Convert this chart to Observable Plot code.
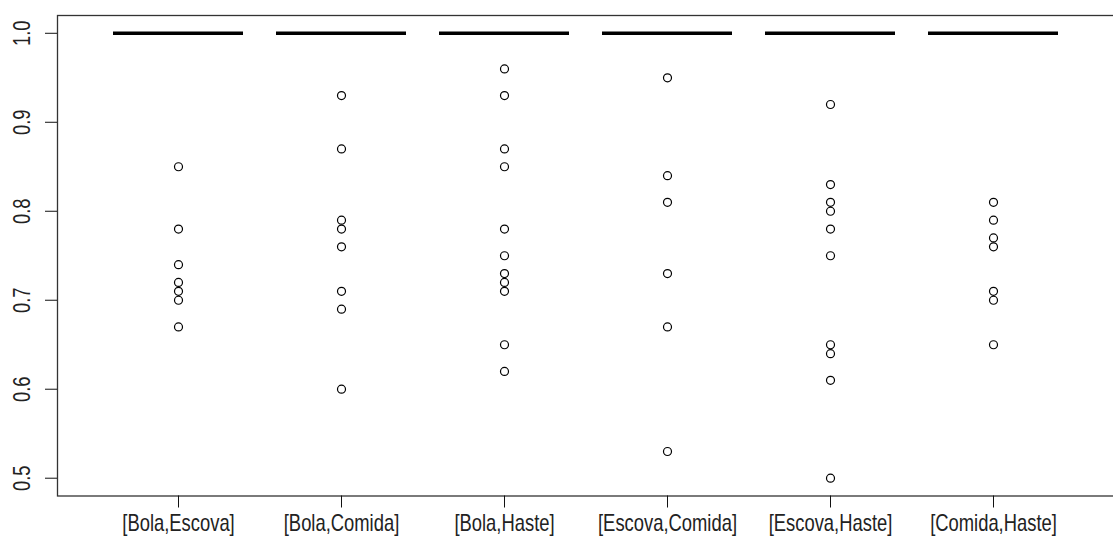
<!DOCTYPE html>
<html><head><meta charset="utf-8">
<script src="https://cdn.jsdelivr.net/npm/d3@7"></script>
<script src="https://cdn.jsdelivr.net/npm/@observablehq/plot@0.6"></script>
<style>html,body{margin:0;padding:0;background:#fff;overflow:hidden} svg{max-width:none !important}</style>
</head><body><div id="chart"></div>
<script>
const categories = ["[Bola,Escova]", "[Bola,Comida]", "[Bola,Haste]", "[Escova,Comida]", "[Escova,Haste]", "[Comida,Haste]"];
const medians = [1.0, 1.0, 1.0, 1.0, 1.0, 1.0];
const outBolaEscova = [0.85, 0.78, 0.74, 0.72, 0.71, 0.70, 0.67];
const outBolaComida = [0.93, 0.87, 0.79, 0.78, 0.76, 0.71, 0.69, 0.60];
const outBolaHaste = [0.96, 0.93, 0.87, 0.85, 0.78, 0.75, 0.73, 0.72, 0.71, 0.65, 0.62];
const outEscovaComida = [0.95, 0.84, 0.81, 0.73, 0.67, 0.53];
const outEscovaHaste = [0.92, 0.83, 0.81, 0.80, 0.78, 0.75, 0.65, 0.64, 0.61, 0.50];
const outComidaHaste = [0.81, 0.79, 0.77, 0.76, 0.71, 0.70, 0.65];
const outliers = [outBolaEscova, outBolaComida, outBolaHaste, outEscovaComida, outEscovaHaste, outComidaHaste];
const yTicks = [0.5, 0.6, 0.7, 0.8, 0.9, 1.0];

const medianRows = categories.map((c, i) => ({cat: c, value: medians[i]}));
const pointRows = categories.flatMap((c, i) => outliers[i].map(v => ({cat: c, value: v})));

const font = "'Liberation Sans', Arial, sans-serif";
const plot = Plot.plot({
  width: 1116, height: 549,
  marginLeft: 57, marginRight: 1, marginTop: 15, marginBottom: 53.5,
  style: {fontFamily: font, fontSize: "23px", color: "#222", background: "#fff"},
  x: {type: "band", domain: categories, paddingInner: 0.2, paddingOuter: 0.34, label: null},
  y: {domain: [0.48, 1.02], label: null},
  marks: [
    Plot.frame({stroke: "#333", strokeWidth: 1.3}),
    Plot.axisX({tickSize: 12, tickPadding: 7, stroke: "#111", fontSize: 23, label: null}),
    Plot.axisY({ticks: yTicks, tickSize: 12, tickPadding: 16, tickRotate: -90, tickFormat: d3.format(".1f"), stroke: "#111", fontSize: 23, label: null}),
    Plot.tickY(medianRows, {x: "cat", y: "value", strokeWidth: 3.5, stroke: "#000"}),
    Plot.dot(pointRows, {x: "cat", y: "value", r: 4, stroke: "#000", strokeWidth: 1.2, fill: "none"})
  ]
});
// condense tick label glyphs along their reading direction (narrow face)
plot.querySelectorAll('[aria-label="x-axis tick label"] text, [aria-label="y-axis tick label"] text').forEach(t => {
  const tr = t.getAttribute("transform") || "";
  t.setAttribute("transform", tr + " scale(0.8,1)");
});
document.getElementById("chart").appendChild(plot);
</script>
</body></html>
